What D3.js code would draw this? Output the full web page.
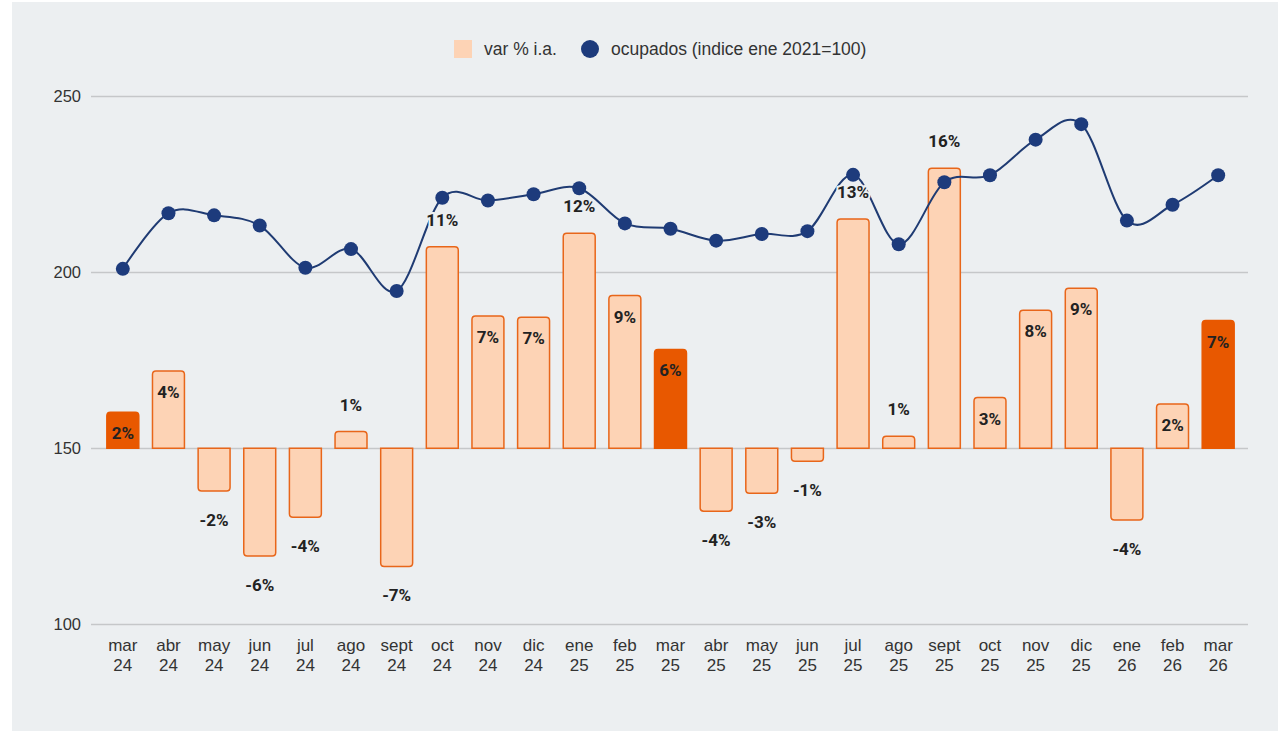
<!DOCTYPE html>
<html>
<head>
<meta charset="utf-8">
<script src="https://cdn.jsdelivr.net/npm/d3@7"></script>
<style>
  html, body { margin: 0; padding: 0; background: #ffffff; }
  svg { display: block; }
</style>
</head>
<body>
<svg id="chart" width="1278" height="731"></svg>
<script>
// ---------- DATA ----------
const categories = ["mar 24","abr 24","may 24","jun 24","jul 24","ago 24","sept 24","oct 24","nov 24","dic 24",
  "ene 25","feb 25","mar 25","abr 25","may 25","jun 25","jul 25","ago 25","sept 25","oct 25","nov 25","dic 25",
  "ene 26","feb 26","mar 26"];
// var % i.a.
const varPct = [2.01, 4.32, -2.39, -6.02, -3.85, 0.93, -6.61, 11.26, 7.39, 7.32,
  12.01, 8.53, 5.52, -3.52, -2.52, -0.73, 12.81, 0.67, 15.64, 2.83, 7.71, 8.94,
  -4.01, 2.47, 7.13];
// ocupados (indice ene 2021=100)
const ocupados = [200.9, 216.7, 216.1, 213.2, 201.2, 206.5, 194.6, 221.1, 220.3, 222.1,
  223.8, 213.8, 212.3, 208.9, 210.8, 211.6, 227.6, 207.9, 225.5, 227.5, 237.6, 242.0,
  214.6, 219.1, 227.5];
const highlighted = ["mar 24", "mar 25", "mar 26"];
const yTicks = [100, 150, 200, 250];
const legendLabels = ["var % i.a.", "ocupados (indice ene 2021=100)"];

// ---------- STYLE ----------
const bg = "#eceff1";
const barFill = "#fdd3b5", barStroke = "#e8661a", barHi = "#e85800";
const lineColor = "#1f3b73", dotColor = "#1d3b7c";
const textColor = "#333333", labelColor = "#222222";
const axisFont = "'Liberation Sans', Arial, sans-serif";
const labelFont = "Roboto, 'Liberation Sans', Arial, sans-serif";

const svg = d3.select("#chart");
svg.append("rect").attr("x", 12).attr("y", 2).attr("width", 1266).attr("height", 729).attr("fill", bg);

const gridLeft = 91, gridRight = 1248;
const x = d3.scaleBand().domain(categories).range([100, 1241]).paddingInner(0.3).paddingOuter(0.15);
const y = d3.scaleLinear().domain([100, 250]).range([624, 96]);
const y2 = d3.scaleLinear().domain([-9.82, 19.68]).range([624, 96]);

// grid + y axis
const yAxis = d3.axisLeft(y).tickValues(yTicks).tickSize(-(gridRight - gridLeft)).tickPadding(10);
const gy = svg.append("g").attr("transform", `translate(${gridLeft},0)`).call(yAxis);
gy.select(".domain").remove();
gy.selectAll(".tick line").attr("stroke", "#c5c7c9").attr("stroke-width", 1.5);
gy.selectAll(".tick text").attr("fill", textColor).attr("font-size", 16.5).attr("font-family", axisFont);

// x axis labels (two lines)
const xAxis = d3.axisBottom(x).tickSize(0).tickPadding(0);
const gx = svg.append("g").attr("transform", `translate(0,632)`).call(xAxis);
gx.select(".domain").remove();
gx.selectAll(".tick text").each(function(d) {
  const parts = d.split(" ");
  const t = d3.select(this).text(null).attr("y", 0).attr("dy", null)
    .attr("fill", textColor).attr("font-size", 17).attr("font-family", axisFont);
  t.append("tspan").attr("x", 0).attr("y", 19).text(parts[0]);
  t.append("tspan").attr("x", 0).attr("y", 39).text(parts[1]);
});

// bars with rounded far end
function barPath(x0, w, yBase, yEnd, r) {
  const up = yEnd < yBase;
  const h = Math.abs(yEnd - yBase);
  r = Math.min(r, h / 2, w / 2);
  if (up) {
    return `M${x0},${yBase} V${yEnd + r} Q${x0},${yEnd} ${x0 + r},${yEnd} H${x0 + w - r} Q${x0 + w},${yEnd} ${x0 + w},${yEnd + r} V${yBase} Z`;
  } else {
    return `M${x0},${yBase} V${yEnd - r} Q${x0},${yEnd} ${x0 + r},${yEnd} H${x0 + w - r} Q${x0 + w},${yEnd} ${x0 + w},${yEnd - r} V${yBase} Z`;
  }
}
const data = categories.map((c, i) => ({ c, v: varPct[i], o: ocupados[i], hi: highlighted.includes(c) }));

svg.append("g").selectAll("path").data(data).join("path")
  .attr("d", d => barPath(x(d.c), x.bandwidth(), y2(0), y2(d.v), 3.5))
  .attr("fill", d => d.hi ? barHi : barFill)
  .attr("stroke", d => d.hi ? barHi : barStroke)
  .attr("stroke-width", 1.5);

// line
const cx = d => x(d.c) + x.bandwidth() / 2;
const line = d3.line().x(cx).y(d => y(d.o)).curve(d3.curveCatmullRom.alpha(0));
svg.append("path").datum(data).attr("d", line)
  .attr("fill", "none").attr("stroke", lineColor).attr("stroke-width", 2);
svg.append("g").selectAll("circle").data(data).join("circle")
  .attr("cx", cx).attr("cy", d => y(d.o)).attr("r", 7).attr("fill", dotColor);

// value labels (hyphen-minus, as in the original)
const fmt = v => d3.format(".0f")(v).replace("\u2212", "-") + "%";
function labelY(d) {
  if (d.v < 0) return y2(d.v) + 29;
  if (d.v < 1.5 || d.v > 10) return y2(d.v) - 27;
  return y2(d.v) + 21;
}
const outside = d => d.v < 0 || d.v < 1.5 || d.v > 10;
svg.append("g").selectAll("text").data(data).join("text")
  .attr("x", cx).attr("y", labelY).attr("dy", "0.35em")
  .attr("text-anchor", "middle")
  .attr("font-family", labelFont).attr("font-weight", "bold").attr("font-size", 17)
  .attr("fill", labelColor)
  .attr("stroke", d => outside(d) ? bg : "none").attr("stroke-width", 4)
  .attr("paint-order", "stroke")
  .text(d => fmt(d.v));

// legend
const lg = svg.append("g");
lg.append("rect").attr("x", 454).attr("y", 40).attr("width", 18).attr("height", 18).attr("fill", barFill);
lg.append("text").attr("x", 484).attr("y", 49).attr("dy", "0.35em").attr("fill", textColor)
  .attr("font-size", 17.5).attr("font-family", axisFont).text(legendLabels[0]);
lg.append("circle").attr("cx", 590).attr("cy", 49).attr("r", 9).attr("fill", dotColor);
lg.append("text").attr("x", 611).attr("y", 49).attr("dy", "0.35em").attr("fill", textColor)
  .attr("font-size", 17.5).attr("font-family", axisFont).text(legendLabels[1]);
</script>
</body>
</html>
